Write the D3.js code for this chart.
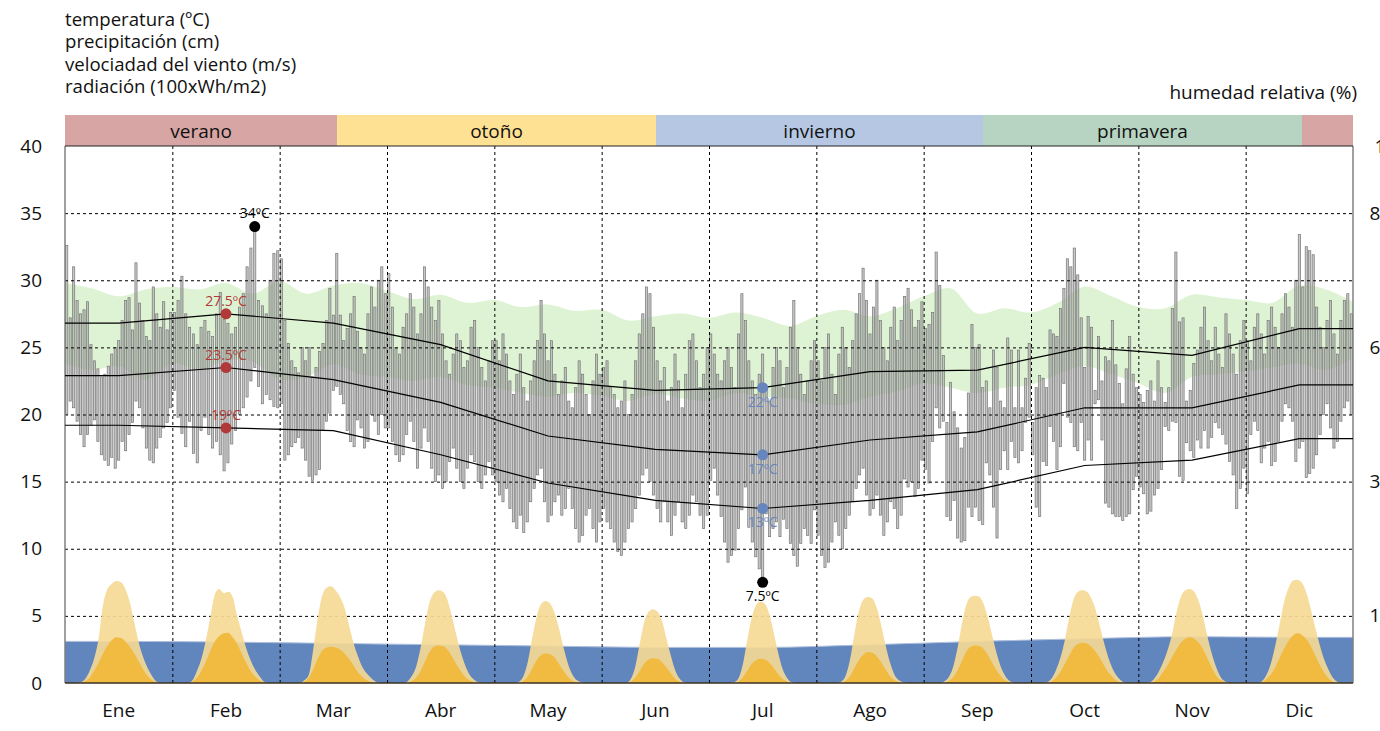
<!DOCTYPE html>
<html>
<head>
<meta charset="utf-8">
<script src="https://cdn.jsdelivr.net/npm/d3@7"></script>
<style>
  body { margin: 0; background: #fff; }
  svg text { font-family: "Open Sans", Lato, sans-serif; }
</style>
</head>
<body>
<svg id="chart" width="1380" height="731"></svg>
<script>
// ---------- data ----------
const months = ["Ene","Feb","Mar","Abr","May","Jun","Jul","Ago","Sep","Oct","Nov","Dic"];
const titleLines = ["temperatura (ºC)", "precipitación (cm)", "velociadad del viento (m/s)", "radiación (100xWh/m2)"];
const rightTitle = "humedad relativa (%)";

const seasonNames = ["verano", "otoño", "invierno", "primavera", "verano"];
const seasonBounds = [0, 2.535, 5.506, 8.553, 11.525, 12];   // in month units

const tempTicks = [0, 5, 10, 15, 20, 25, 30, 35, 40];
const humTicks = [0, 12.5, 25, 37.5, 50, 62.5, 75, 87.5, 100];

// daily maximum temperature (ºC), one array per month
const tMax = [
  [32.6,27.2,31.0,28.5,27.5,27.8,28.4,25.2,24.0,23.4,22.8,23.0,23.6,24.5,25.0,25.5,27.0,28.5,28.7,26.3,31.3,28.3,27.0,25.8,25.5,29.5,27.5,26.5,28.4,26.3,27.6],
  [27.6,28.5,30.3,27.5,26.5,26.0,25.2,26.5,27.0,26.2,25.8,27.5,29.1,27.1,26.8,26.0,26.5,28.0,29.0,31.0,32.4,34.0,28.5,28.1,27.5,30.0,32.0,32.2],
  [31.6,27.0,25.3,24.0,23.5,23.1,25.0,24.0,25.0,22.8,23.5,24.7,25.3,27.0,29.4,27.4,32.0,27.4,25.5,26.4,27.5,28.8,26.2,25.0,24.5,27.5,29.5,28.0,30.0,31.0,29.0],
  [30.5,28.0,25.0,24.5,26.5,27.5,29.0,28.0,26.0,27.5,31.0,29.5,28.0,27.0,28.5,26.0,24.0,23.0,24.5,26.0,25.5,23.5,24.0,26.5,27.0,25.0,23.5,22.5,24.0,25.5],
  [25.5,24.0,26.0,24.5,22.5,21.5,23.0,24.5,22.0,21.0,22.5,24.0,25.5,28.5,26.0,24.0,25.5,23.0,21.5,22.5,23.5,21.0,20.5,22.0,24.0,23.0,21.5,20.0,22.5,24.5,23.0],
  [23.5,24.0,22.0,21.5,20.5,21.0,22.5,20.0,21.5,24.0,26.0,27.5,29.5,29.0,26.5,24.0,22.5,23.5,21.0,22.0,24.5,22.5,20.5,23.0,25.5,26.0,24.0,22.0,23.0,25.0],
  [26.0,24.5,23.0,22.5,24.0,25.0,23.5,22.0,26.0,29.0,27.0,24.0,22.5,21.5,23.0,24.5,22.0,21.0,23.5,25.0,24.0,22.0,23.5,26.5,28.5,25.0,23.0,21.5,22.5,24.0,25.5],
  [24.0,22.5,25.0,26.0,23.0,21.5,24.5,26.5,25.0,23.5,25.5,27.5,29.0,30.9,28.5,26.0,28.0,30.0,27.0,25.0,24.0,26.5,28.0,25.5,27.0,28.8,29.4,27.8,26.5,27.0,28.4],
  [26.4,26.7,27.6,32.1,29.6,24.4,19.4,22.4,20.2,19.0,17.5,18.3,21.6,26.7,25.0,25.2,22.0,22.5,20.5,24.8,23.5,21.0,20.5,25.7,24.8,20.5,24.8,20.5,22.7,25.3],
  [19.4,22.0,22.9,22.7,22.0,26.3,26.0,25.8,27.9,29.4,31.6,31.0,32.4,30.4,27.2,23.5,27.3,26.5,21.8,25.8,22.5,24.3,24.0,27.0,23.7,22.3,20.8,23.4,25.8,23.0,22.0],
  [21.5,20.9,21.8,22.5,21.0,24.0,22.0,20.9,22.0,27.9,32.1,26.9,27.2,21.0,21.8,23.8,24.8,26.5,28.0,25.5,24.0,26.5,24.5,23.5,27.5,26.0,24.5,23.0,25.5,27.0],
  [25.5,24.0,26.5,27.5,26.0,24.5,27.0,28.0,26.5,25.0,27.5,29.0,28.0,26.5,30.0,33.4,29.5,32.5,32.2,31.9,28.0,26.5,25.0,27.0,28.5,26.0,24.5,27.0,28.5,29.0,27.5]
];

// daily minimum temperature (ºC), one array per month
const tMin = [
  [20.0,21.0,20.5,19.5,18.5,17.6,18.5,19.2,19.6,18.0,17.0,16.6,16.2,16.8,16.0,16.6,18.0,17.3,18.5,19.4,21.0,20.5,19.0,17.5,16.6,16.4,17.5,18.3,19.0,19.4,20.5],
  [21.8,19.8,18.6,17.6,19.5,17.1,16.4,18.8,19.8,18.5,17.5,18.0,17.0,15.8,16.4,17.8,18.8,20.0,20.5,21.3,22.5,23.5,22.1,20.8,21.5,21.1,20.6,20.5],
  [20.8,16.6,17.0,17.6,17.9,18.3,17.5,16.6,15.4,15.1,15.5,15.9,18.8,19.5,20.1,21.8,22.1,21.5,20.8,18.8,18.0,17.6,19.6,19.0,17.5,18.0,20.0,19.5,18.5,20.0,19.0],
  [19.0,18.0,17.0,16.5,17.0,18.5,19.5,18.0,16.0,17.5,19.0,18.0,16.0,15.0,15.5,14.5,15.0,16.5,17.5,16.0,15.0,14.5,16.0,17.0,16.5,15.0,14.5,15.5,16.5,15.5],
  [15.0,14.0,13.5,14.5,13.0,12.0,11.5,12.5,11.2,12.0,13.5,14.5,15.5,16.0,13.5,12.0,12.5,13.5,14.0,12.5,13.0,14.5,13.0,11.5,10.5,11.0,12.5,13.0,11.5,10.5,12.0],
  [13.0,12.0,11.5,10.5,9.8,9.5,10.5,11.5,12.0,13.0,14.0,15.5,16.0,15.0,14.0,13.0,12.0,13.5,12.0,11.0,12.5,13.5,12.0,11.5,12.5,14.0,13.5,12.5,11.5,12.5],
  [15.1,16.0,14.0,12.4,10.5,9.0,9.5,9.9,11.5,12.9,14.6,11.6,10.5,9.4,8.5,7.5,12.6,10.9,11.5,12.0,10.9,12.2,11.5,10.4,9.5,8.7,10.4,11.5,11.0,10.4,12.9],
  [11.0,9.5,8.6,9.0,10.5,12.0,11.0,10.0,11.5,12.5,13.5,14.5,15.5,16.0,14.0,12.5,13.0,14.0,12.5,11.0,12.0,13.5,13.0,11.5,12.5,15.2,14.6,15.0,13.9,14.5,16.6],
  [15.9,14.9,18.0,20.5,19.0,19.5,12.4,12.1,13.6,10.8,10.5,10.6,13.1,12.4,13.1,12.1,11.8,16.4,15.5,13.1,10.8,15.9,17.3,15.9,18.0,16.8,16.4,17.3,19.4,19.8],
  [17.0,13.1,12.4,16.5,16.2,19.1,18.0,15.9,17.6,22.3,19.8,19.4,17.6,17.3,19.4,16.6,18.1,16.6,20.8,21.1,18.1,13.4,13.1,12.6,12.4,12.4,12.1,12.4,12.6,14.4,15.4],
  [14.6,14.1,12.6,12.8,14.0,14.5,15.9,19.1,18.8,19.5,19.4,15.4,15.1,17.9,17.3,16.8,18.1,17.5,18.8,17.5,18.3,19.4,19.0,18.5,17.8,16.5,15.5,13.0,14.5,16.0],
  [14.1,18.5,19.5,18.8,16.4,17.5,18.0,16.2,16.5,18.0,19.5,20.8,20.5,19.5,16.5,17.5,18.0,15.3,15.6,16.0,17.0,18.5,20.0,20.8,19.0,17.5,18.0,19.5,20.5,21.0,20.0]
];

// monthly averages of daily max / mean / min temperature (ºC)
const monthlyMax  = [26.8, 27.5, 26.8, 25.2, 22.5, 21.8, 22.0, 23.2, 23.3, 25.0, 24.4, 26.4];
const monthlyMean = [22.9, 23.5, 22.6, 20.9, 18.4, 17.4, 17.0, 18.1, 18.7, 20.5, 20.5, 22.2];
const monthlyMin  = [19.2, 19.0, 18.8, 17.0, 14.9, 13.6, 13.0, 13.6, 14.4, 16.2, 16.6, 18.2];

// relative humidity range (%), sampled every quarter month from 1 Jan to 31 Dec
const humHigh = [74.5,73.5,72.0,73.3,73.8,73.3,74.5,72.5,74.8,72.5,74.0,74.5,73.0,71.5,72.3,70.8,71.3,70.0,70.5,69.3,69.5,67.5,68.3,68.8,68.0,69.0,68.0,66.5,68.3,69.5,68.3,69.8,72.0,73.5,68.8,69.8,69.0,70.8,73.8,72.0,70.0,69.8,72.3,71.8,71.3,70.8,74.0,73.3,71.0];
const humLow  = [59.5,58.3,59.0,56.5,59.5,58.3,60.0,59.8,56.5,57.0,59.3,57.5,57.0,56.3,57.0,55.5,55.0,54.0,53.3,54.0,53.5,52.5,53.8,53.0,52.5,54.0,53.3,53.0,52.0,51.8,53.3,54.3,55.8,55.0,54.0,55.0,55.5,57.5,59.0,57.5,55.8,54.0,57.0,57.5,58.0,58.8,59.5,58.3,60.5];

// monthly mean wind speed (m/s)
const windMonthly = [3.1, 3.05, 2.95, 2.85, 2.75, 2.65, 2.65, 2.85, 3.1, 3.3, 3.45, 3.4];

// hourly radiation (100 Wh/m2), hours 0..23: maximum and mean day of each month
const radMax = [
  [0,0,0,0.05,0.3,0.9,1.8,3.3,5.8,7.0,7.4,7.6,7.5,7.0,6.0,4.5,3.0,1.9,1.1,0.5,0.1,0,0,0],
  [0,0,0,0,0.2,0.9,1.8,3.2,4.9,6.6,7.0,6.7,6.8,6.4,5.0,3.8,2.6,1.7,1.0,0.5,0.1,0,0,0],
  [0,0,0,0,0,0.2,0.6,2.5,4.8,6.5,7.1,7.2,6.9,6.4,5.6,4.3,3.0,2.0,1.2,0.7,0.35,0.1,0,0],
  [0,0,0,0,0.1,0.5,1.2,2.6,4.4,6.0,6.7,6.9,6.8,6.2,5.0,3.6,2.3,1.3,0.6,0.25,0.05,0,0,0],
  [0,0,0,0,0,0.1,0.5,1.6,3.4,5.0,5.9,6.1,5.9,5.2,4.0,2.6,1.4,0.6,0.2,0.05,0,0,0,0],
  [0,0,0,0,0,0,0.3,1.2,2.9,4.5,5.3,5.5,5.3,4.6,3.3,2.0,0.9,0.3,0.05,0,0,0,0,0],
  [0,0,0,0,0,0.05,0.3,1.3,3.1,4.8,5.8,6.05,5.9,5.1,3.7,2.2,1.0,0.35,0.05,0,0,0,0,0],
  [0,0,0,0,0,0.1,0.5,1.7,3.6,5.3,6.2,6.4,6.3,5.6,4.3,2.8,1.5,0.6,0.2,0.05,0,0,0,0],
  [0,0,0,0,0.1,0.4,1.1,2.5,4.3,5.8,6.4,6.5,6.4,5.8,4.7,3.3,2.0,1.0,0.4,0.1,0,0,0,0],
  [0,0,0,0.05,0.3,0.9,1.8,3.1,4.8,6.2,6.8,6.9,6.8,6.3,5.4,4.1,2.8,1.7,0.9,0.4,0.1,0,0,0],
  [0,0,0.05,0.3,0.8,1.5,2.4,3.6,5.2,6.4,6.9,7.0,6.8,6.1,4.9,3.4,2.1,1.1,0.4,0.1,0,0,0,0],
  [0,0,0,0.1,0.5,1.3,2.6,4.2,5.9,7.0,7.6,7.7,7.5,6.8,5.6,4.2,2.9,1.8,1.0,0.4,0.1,0,0,0]
];
const radMean = [
  [0,0,0,0,0.15,0.4,0.9,1.5,2.2,2.8,3.2,3.4,3.35,3.1,2.7,2.2,1.6,1.0,0.5,0.2,0.05,0,0,0],
  [0,0,0,0,0.1,0.4,0.9,1.6,2.4,3.1,3.5,3.7,3.75,3.4,2.9,2.2,1.5,0.9,0.5,0.2,0.05,0,0,0],
  [0,0,0,0,0,0.1,0.4,1.0,1.8,2.4,2.65,2.7,2.65,2.5,2.2,1.8,1.3,0.8,0.45,0.2,0.05,0,0,0],
  [0,0,0,0,0,0.15,0.4,0.9,1.6,2.3,2.7,2.8,2.75,2.5,2.0,1.4,0.9,0.45,0.2,0.05,0,0,0,0],
  [0,0,0,0,0,0,0.15,0.5,1.1,1.7,2.1,2.2,2.15,1.9,1.4,0.9,0.45,0.15,0.05,0,0,0,0,0],
  [0,0,0,0,0,0,0.1,0.4,0.9,1.45,1.75,1.85,1.8,1.55,1.15,0.7,0.3,0.1,0,0,0,0,0,0],
  [0,0,0,0,0,0,0.1,0.4,0.9,1.4,1.7,1.8,1.75,1.5,1.1,0.65,0.3,0.1,0,0,0,0,0,0],
  [0,0,0,0,0,0,0.15,0.5,1.1,1.7,2.1,2.3,2.25,2.0,1.55,1.0,0.5,0.2,0.05,0,0,0,0,0],
  [0,0,0,0,0,0.15,0.4,0.9,1.6,2.3,2.7,2.8,2.75,2.5,2.0,1.4,0.85,0.4,0.15,0.05,0,0,0,0],
  [0,0,0,0,0.1,0.35,0.8,1.4,2.0,2.6,2.9,3.0,2.95,2.7,2.3,1.8,1.2,0.7,0.35,0.1,0,0,0,0],
  [0,0,0,0.1,0.35,0.8,1.3,1.9,2.5,3.0,3.3,3.4,3.3,3.0,2.5,1.8,1.1,0.5,0.2,0.05,0,0,0,0],
  [0,0,0,0.05,0.25,0.6,1.1,1.8,2.5,3.1,3.5,3.7,3.6,3.3,2.8,2.1,1.4,0.8,0.35,0.1,0,0,0,0]
];

// ---------- styles ----------
const seasonColors = { "verano": "#d6a5a4", "otoño": "#ffe193", "invierno": "#b5c7e3", "primavera": "#b6d4c1" };
const warmColor = "#b03a3a";
const coldColor = "#6786bd";
const FONT = "'Open Sans', Lato, sans-serif";
const TITLE_FONT = "'Liberation Sans', Arial, sans-serif";
const FS = 19;

// ---------- scales ----------
const svg = d3.select("#chart");
const X0 = 65, X1 = 1353, Y0 = 683, Y1 = 146;
const x = d3.scaleLinear().domain([0, 12]).range([X0, X1]);
const y = d3.scaleLinear().domain([0, 40]).range([Y0, Y1]);
const yHum = d3.scaleLinear().domain([0, 100]).range([Y0, Y1]);
const xMonth = d3.scaleBand().domain(months).range([X0, X1]);

// flatten daily values onto the month axis
const daily = [];
tMax.forEach((arr, m) => arr.forEach((v, d) => {
  daily.push({ m, d, pos: m + (d + 0.5) / arr.length, max: v, min: tMin[m][d] });
}));

// ---------- titles ----------
svg.append("g").selectAll("text").data(titleLines).join("text")
  .attr("x", 65).attr("y", (d, i) => 26 + i * 22.3)
  .attr("font-family", TITLE_FONT).attr("font-size", 18.6).attr("fill", "#111").text(d => d);
svg.append("text").attr("x", 1357).attr("y", 99).attr("text-anchor", "end")
  .attr("font-size", FS).attr("fill", "#111").text(rightTitle);

// ---------- season band ----------
const seasonG = svg.append("g");
seasonNames.forEach((name, i) => {
  const a = x(seasonBounds[i]), b = x(seasonBounds[i + 1]);
  seasonG.append("rect").attr("x", a).attr("y", 115).attr("width", b - a).attr("height", 31)
    .attr("fill", seasonColors[name]);
  if (b - a > 100) {
    seasonG.append("text").attr("x", (a + b) / 2).attr("y", 137.5).attr("text-anchor", "middle")
      .attr("font-size", FS).attr("fill", "#111").text(name);
  }
});

// ---------- humidity band ----------
const humData = humHigh.map((h, i) => ({ pos: i * 0.25, hi: h, lo: humLow[i] }));
svg.append("path").datum(humData)
  .attr("d", d3.area().x(d => x(d.pos)).y0(d => yHum(d.lo)).y1(d => yHum(d.hi)).curve(d3.curveCatmullRom))
  .attr("fill", "#b0e397").attr("fill-opacity", 0.42);

// ---------- daily temperature bars ----------
const barW = (x(1) - x(0)) / 31 * 0.62;
svg.append("g").selectAll("rect").data(daily).join("rect")
  .attr("x", d => x(d.pos) - barW / 2)
  .attr("y", d => y(d.max))
  .attr("width", barW)
  .attr("height", d => y(d.min) - y(d.max))
  .attr("fill", "#b0b0b0").attr("fill-opacity", 0.7)
  .attr("stroke", "#767676").attr("stroke-width", 0.7);

// ---------- wind area ----------
const windData = [{ pos: 0, v: windMonthly[0] }]
  .concat(windMonthly.map((v, i) => ({ pos: i + 0.5, v })))
  .concat([{ pos: 12, v: windMonthly[11] }]);
svg.append("path").datum(windData)
  .attr("d", d3.area().x(d => x(d.pos)).y0(y(0)).y1(d => y(d.v)).curve(d3.curveMonotoneX))
  .attr("fill", "#6185bd");
svg.append("path").datum(windData)
  .attr("d", d3.line().x(d => x(d.pos)).y(d => y(d.v)).curve(d3.curveMonotoneX))
  .attr("fill", "none").attr("stroke", "#aebfdc").attr("stroke-width", 1);

// ---------- grid ----------
const grid = svg.append("g");
grid.append("g").attr("transform", `translate(${X0},0)`)
  .call(d3.axisLeft(y).tickValues([5, 10, 15, 20, 25, 30, 35]).tickSize(-(X1 - X0)).tickFormat(""))
  .call(g => g.select(".domain").remove())
  .call(g => g.selectAll("line").attr("stroke", "#000").attr("stroke-dasharray", "3,3"));
grid.append("g").attr("transform", `translate(0,${Y0})`)
  .call(d3.axisBottom(x).tickValues(d3.range(1, 12)).tickSize(-(Y0 - Y1)).tickFormat(""))
  .call(g => g.select(".domain").remove())
  .call(g => g.selectAll("line").attr("stroke", "#000").attr("stroke-dasharray", "3,3"));

// ---------- radiation bells ----------
const radArea = d3.area().x(d => x(d.pos)).y0(y(0)).y1(d => y(d.v)).curve(d3.curveMonotoneX);
const hourly = (arr, m) => arr.map((v, h) => ({ pos: m + (h + 0.5) / 24, v }));
const radG = svg.append("g");
radMax.forEach((arr, m) => {
  radG.append("path").datum(hourly(arr, m)).attr("d", radArea)
    .attr("fill", "#f5d995").attr("fill-opacity", 0.92);
});
radMean.forEach((arr, m) => {
  radG.append("path").datum(hourly(arr, m)).attr("d", radArea)
    .attr("fill", "#f0bb40");
});

// ---------- frame ----------
svg.append("line").attr("x1", X0).attr("x2", X0).attr("y1", Y1).attr("y2", Y0)
  .attr("stroke", "#808080").attr("stroke-width", 1.5);
svg.append("line").attr("x1", X1).attr("x2", X1).attr("y1", Y1).attr("y2", Y0)
  .attr("stroke", "#808080").attr("stroke-width", 1.5);
svg.append("line").attr("x1", X0).attr("x2", X1).attr("y1", Y1).attr("y2", Y1)
  .attr("stroke", "#222").attr("stroke-width", 1.2);
svg.append("line").attr("x1", X0).attr("x2", X1).attr("y1", Y0).attr("y2", Y0)
  .attr("stroke", "#3b3020").attr("stroke-width", 1.5);

// ---------- monthly lines ----------
const lineGen = d3.line().x(d => x(d.pos)).y(d => y(d.v));
[monthlyMax, monthlyMean, monthlyMin].forEach(series => {
  const pts = [{ pos: 0, v: series[0] }]
    .concat(series.map((v, i) => ({ pos: i + 0.5, v })))
    .concat([{ pos: 12, v: series[11] }]);
  svg.append("path").datum(pts).attr("d", lineGen)
    .attr("fill", "none").attr("stroke", "#000").attr("stroke-width", 1.2);
});

// ---------- markers ----------
const hotM = d3.maxIndex(monthlyMean), coldM = d3.minIndex(monthlyMean);
const fmt = v => `${v}ºC`;
const markG = svg.append("g");
[[hotM, warmColor, -8], [coldM, coldColor, 19]].forEach(([m, col, dy]) => {
  [monthlyMax[m], monthlyMean[m], monthlyMin[m]].forEach(v => {
    markG.append("circle").attr("cx", x(m + 0.5)).attr("cy", y(v)).attr("r", 5.5).attr("fill", col);
    markG.append("text").attr("x", x(m + 0.5)).attr("y", y(v) + dy).attr("text-anchor", "middle")
      .attr("font-size", 14).attr("fill", col).text(fmt(v));
  });
});
const hottest = daily[d3.maxIndex(daily, d => d.max)];
const coldest = daily[d3.minIndex(daily, d => d.min)];
markG.append("circle").attr("cx", x(hottest.pos)).attr("cy", y(hottest.max)).attr("r", 5.5).attr("fill", "#000");
markG.append("text").attr("x", x(hottest.pos)).attr("y", y(hottest.max) - 9).attr("text-anchor", "middle")
  .attr("font-size", 14).attr("fill", "#000").text(fmt(hottest.max));
markG.append("circle").attr("cx", x(coldest.pos)).attr("cy", y(coldest.min)).attr("r", 5.5).attr("fill", "#000");
markG.append("text").attr("x", x(coldest.pos)).attr("y", y(coldest.min) + 19).attr("text-anchor", "middle")
  .attr("font-size", 14).attr("fill", "#000").text(fmt(coldest.min));

// ---------- axes labels ----------
svg.append("g").attr("transform", `translate(${X0},0)`)
  .call(d3.axisLeft(y).tickValues(tempTicks).tickSize(0).tickPadding(23))
  .call(g => g.select(".domain").remove())
  .call(g => g.selectAll("text").attr("font-size", FS).attr("fill", "#111").attr("font-family", FONT));

// right-hand humidity labels run past the page edge, right-aligned
svg.append("g").attr("transform", `translate(${X1},0)`)
  .call(d3.axisRight(yHum).tickValues(humTicks).tickSize(0).tickFormat(d3.format("")))
  .call(g => g.select(".domain").remove())
  .call(g => g.selectAll("text").attr("x", 54).attr("text-anchor", "end")
    .attr("font-size", FS).attr("fill", "#111").attr("font-family", FONT));

svg.append("g").attr("transform", `translate(0,${Y0})`)
  .call(d3.axisBottom(xMonth).tickSize(0).tickPadding(21))
  .call(g => g.select(".domain").remove())
  .call(g => g.selectAll("text").attr("font-size", FS).attr("fill", "#111").attr("font-family", FONT));
</script>
</body>
</html>
